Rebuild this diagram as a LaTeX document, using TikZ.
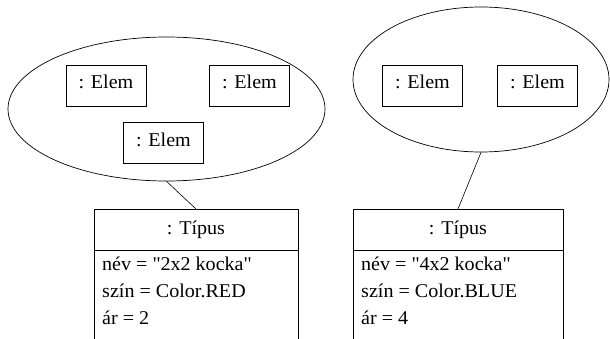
\documentclass[tikz,border=0pt]{standalone}
\usepackage{fontspec}
\setmainfont[FakeStretch=1.03]{Liberation Serif}
\usetikzlibrary{shapes.geometric}
\begin{document}
\begin{tikzpicture}[x=1pt,y=-1pt,
  every node/.style={font=\fontsize{19.5}{21}\selectfont},
  grp/.style={draw,ellipse,inner sep=0pt,line width=0.7pt},
  elem/.style={draw,rectangle,minimum width=80pt,minimum height=41pt,inner sep=0pt,line width=0.7pt},
  tbox/.style={draw,rectangle,minimum width=#1,minimum height=140pt,inner sep=0pt,line width=0.7pt,anchor=north},
  lbl/.style={anchor=base,inner sep=0pt},
  attr/.style={anchor=base west,inner sep=0pt},
  link/.style={line width=0.6pt}]
\useasboundingbox (0,0) rectangle (610,339);
\clip (0,0) rectangle (610,339);
% left group
\node[grp,minimum width=317pt,minimum height=144pt] (g1) at (166.5,109) {};
\node[elem] (e1) at (106,85.5) {};
\node[lbl] (e1t) at (106,89) {: Elem};
\node[elem] (e2) at (249.5,85.5) {};
\node[lbl] (e2t) at (249.5,89) {: Elem};
\node[elem] (e3) at (163.5,143) {};
\node[lbl] (e3t) at (163.5,146.5) {: Elem};
% right group
\node[grp,minimum width=256pt,minimum height=145pt] (g2) at (481,79.5) {};
\node[elem] (e4) at (422.5,85.5) {};
\node[lbl] (e4t) at (422.5,89) {: Elem};
\node[elem] (e5) at (537.5,85.5) {};
\node[lbl] (e5t) at (537.5,89) {: Elem};
% left type box
\node[tbox=204pt] (t1) at (196,209) {};
\coordinate (t1l) at (94,250);
\coordinate (t1r) at (298,250);
\draw[line width=0.7pt] (t1l) -- (t1r);
\node[lbl] (t1h) at (196,234) {: Típus};
\node[attr] (a1) at (102,270) {név = \textquotedbl 2x2 kocka\textquotedbl};
\node[attr] (a2) at (102,297) {szín = Color.RED};
\node[attr] (a3) at (102,324) {ár = 2};
% right type box
\node[tbox=210pt] (t2) at (458,209) {};
\coordinate (t2l) at (353,250);
\coordinate (t2r) at (563,250);
\draw[line width=0.7pt] (t2l) -- (t2r);
\node[lbl] (t2h) at (458,234) {: Típus};
\node[attr] (b1) at (361,270) {név = \textquotedbl 4x2 kocka\textquotedbl};
\node[attr] (b2) at (361,297) {szín = Color.BLUE};
\node[attr] (b3) at (361,324) {ár = 4};
% connectors
\draw[link] (g1.south) -- (t1.north);
\draw[link] (g2.south) -- (t2.north);
\end{tikzpicture}
\end{document}
